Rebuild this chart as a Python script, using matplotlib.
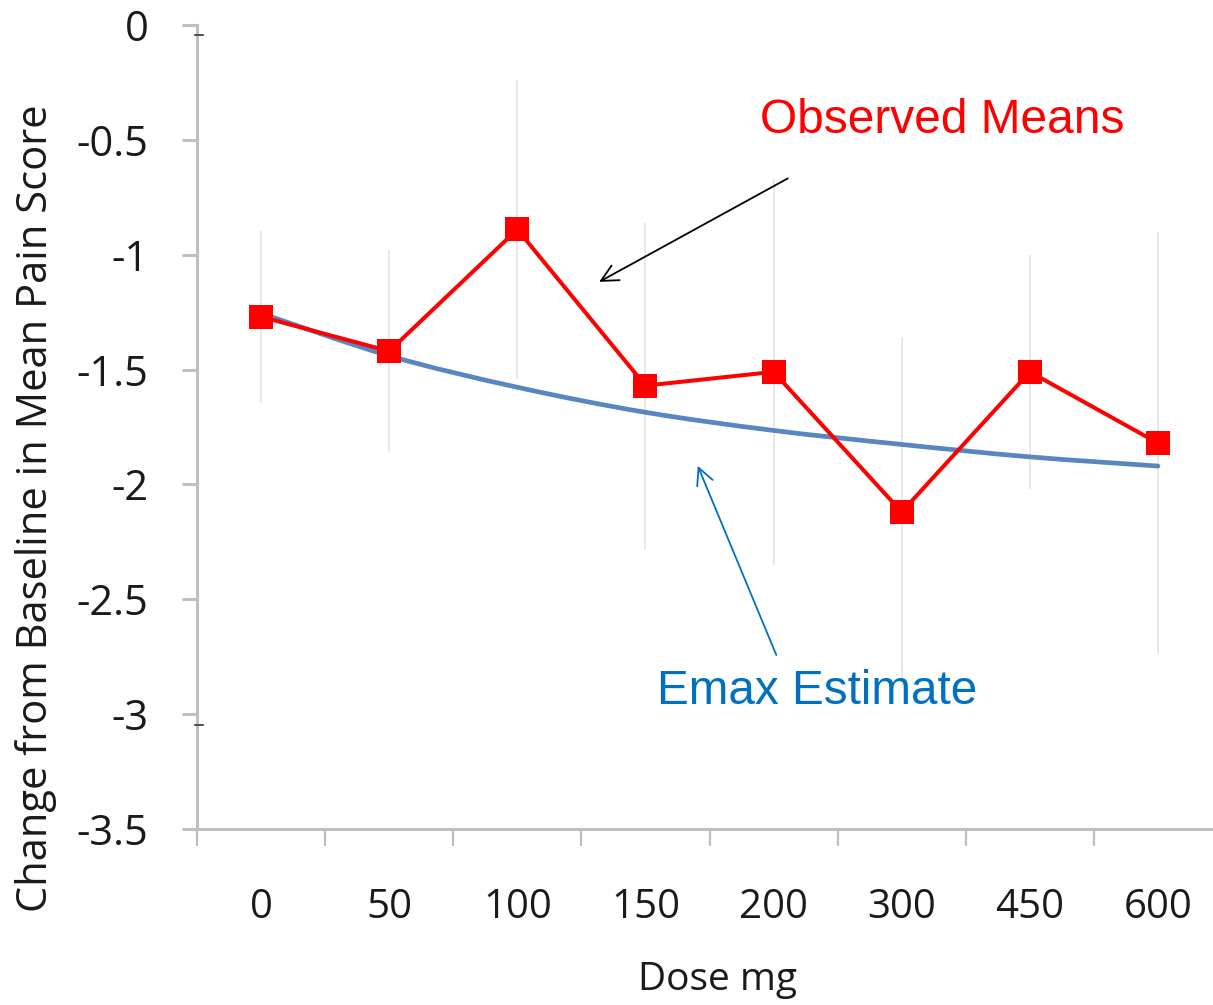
import numpy as np
import matplotlib
matplotlib.use('Agg')
from matplotlib import pyplot as plt
from matplotlib.path import Path
from matplotlib.patches import PathPatch

#---------------------------------------------------------
# Dose groups and results
doses = ['0', '50', '100', '150', '200', '300', '450', '600']
obs_mean = [-1.27, -1.42, -0.89, -1.57, -1.51, -2.12, -1.51, -1.82]   # observed means
obs_err = [0.375, 0.44, 0.65, 0.71, 0.84, 0.76, 0.51, 0.92]          # half-width of the bars
emax_fit = [-1.255, -1.44, -1.577, -1.686, -1.765, -1.826, -1.88, -1.92]  # Emax model estimate

y_ticks = [0, -0.5, -1, -1.5, -2, -2.5, -3, -3.5]

red = '#ff0000'
blue_line = '#4f81bd'
blue_text = '#0070c0'
axis_grey = '#bfbfbf'

W, H = 1213, 1005
fig = plt.figure(figsize=(W/100, H/100), dpi=100)
plt.rcParams['font.family'] = ['Open Sans', 'DejaVu Sans']

# axes spans past the right edge of the figure (last category is cut off)
left, right, top, bottom = 197, 1222, 25, 829
ax = fig.add_axes([left/W, (H-bottom)/H, (right-left)/W, (bottom-top)/H])

x = np.arange(len(doses))
ax.set_xlim(-0.5, len(doses)-0.5)
ax.set_ylim(-3.5, 0)

# faint vertical bars
ax.errorbar(x, obs_mean, yerr=obs_err, fmt='none', ecolor='#e8e8e8', elinewidth=1.4, capsize=0, zorder=1)

# smoothed Emax curve (Bezier segments through the fitted values)
pts = np.column_stack([x, emax_fit]).astype(float)
verts = [pts[0]]
codes = [Path.MOVETO]
for i in range(len(pts)-1):
    p0 = pts[max(i-1, 0)]
    p1 = pts[i]
    p2 = pts[i+1]
    p3 = pts[min(i+2, len(pts)-1)]
    c1 = p1 + (p2 - p0)/6
    c2 = p2 - (p3 - p1)/6
    verts += [c1, c2, p2]
    codes += [Path.CURVE4]*3
ax.add_patch(PathPatch(Path(verts, codes), facecolor='none', edgecolor=blue_line, lw=3.4,
                       alpha=0.95, capstyle='round', zorder=2))

# observed means
ax.plot(x, obs_mean, color=red, lw=2.9, marker='s', markersize=17.5, markeredgewidth=0, zorder=3)

# spines / ticks
for s in ['top', 'right']:
    ax.spines[s].set_visible(False)
for s in ['left', 'bottom']:
    ax.spines[s].set_color(axis_grey)
    ax.spines[s].set_linewidth(2.2)

ax.set_yticks(y_ticks)
ax.set_yticklabels(['0', '-0.5', '-1', '-1.5', '-2', '-2.5', '-3', '-3.5'])
ax.tick_params(axis='y', direction='out', length=11, width=2.2, color=axis_grey,
               labelsize=30, labelcolor='#1a1a1a', pad=24)
ax.set_xticks(x)
ax.set_xticklabels(doses)
ax.tick_params(axis='x', which='major', length=0, labelsize=29, labelcolor='#1a1a1a', pad=42)
ax.set_xticks(np.arange(-0.5, len(doses)), minor=True)
ax.tick_params(axis='x', which='minor', direction='out', length=12, width=1.6, color=axis_grey)

# axis titles
fig.text(36/W, 1-508/H, 'Change from Baseline in Mean Pain Score', rotation=90,
         ha='center', va='center', fontsize=30, color='#1a1a1a')
fig.text(718/W, 1-980/H, 'Dose mg', ha='center', va='center', fontsize=28, color='#1a1a1a')

# annotations
ax.text(5.32, -0.414, 'Observed Means', color=red, fontsize=34.5, family='Liberation Sans',
        ha='center', va='center')
ax.annotate('', xy=(2.62, -1.124), xytext=(4.13, -0.662),
            arrowprops=dict(arrowstyle='->', color='black', lw=1.3, mutation_scale=30))
ax.text(4.34, -2.90, 'Emax Estimate', color=blue_text, fontsize=34.3, family='Liberation Sans',
        ha='center', va='center')
ax.annotate('', xy=(3.40, -1.908), xytext=(4.03, -2.754),
            arrowprops=dict(arrowstyle='->', color=blue_text, lw=1.3, mutation_scale=30))

# small stray tick marks beside the axis
for py in [35, 725]:
    fig.add_artist(plt.Line2D([195/W, 203/W], [1-py/H, 1-py/H], color='#333333', lw=1.2))

fig.savefig('out.png', dpi=100)
